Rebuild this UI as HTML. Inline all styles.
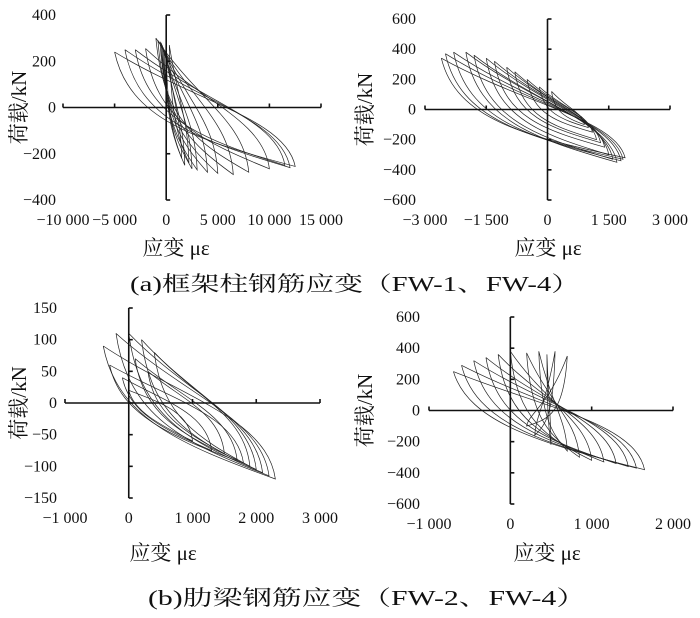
<!DOCTYPE html>
<html><head><meta charset="utf-8"><style>
body{margin:0;background:#fff;}
svg text{font-family:"Liberation Serif","Noto Serif CJK SC",serif;fill:#111;}
.tk{font-size:16px;}
.ax{stroke:#111;stroke-width:1.6;fill:none;}
.cv{stroke:#222;stroke-width:0.7;fill:none;}
.lab{font-size:21px;font-family:"Liberation Serif","Noto Serif CJK SC",serif;}
.cap{font-size:21px;font-family:"Liberation Serif","Noto Serif CJK SC",serif;}
</style></head><body>
<svg id="fig" width="700" height="613" viewBox="0 0 700 613" xmlns="http://www.w3.org/2000/svg">
<text class="cap" x="130" y="291" textLength="450" lengthAdjust="spacingAndGlyphs">(a)框架柱钢筋应变（FW-1、FW-4）</text>
<text class="cap" x="148" y="605" textLength="438" lengthAdjust="spacingAndGlyphs">(b)肋梁钢筋应变（FW-2、FW-4）</text>
</svg>
<script>
// chart 1: frame column FW-1
const c1XTicks=[-10000,-5000,0,5000,10000,15000];
const c1XLabels=["−10 000","−5 000","0","5 000","10 000","15 000"];
const c1YTicks=[400,200,0,-200,-400];
const c1YLabels=["400","200","0","−200","−400"];
const c1LeftX=[-5000,-4000,-3000,-2000,-1000,-800,-600,-500,-400,-300,-200,0,300];
const c1LeftY=[240,250,250,255,300,290,285,280,270,260,250,240,270];
const c1RightX=[12500,12000,11500,10000,8000,6500,5000,4000,3000,2500,1800,1500,2200];
const c1RightY=[-255,-260,-250,-265,-280,-290,-285,-280,-270,-265,-250,-220,-240];
// chart 2: frame column FW-4
const c2XTicks=[-3000,-1500,0,1500,3000];
const c2XLabels=["−3 000","−1 500","0","1 500","3 000"];
const c2YTicks=[600,400,200,0,-200,-400,-600];
const c2YLabels=["600","400","200","0","−200","−400","−600"];
const c2LeftX=[-2600,-2500,-2300,-2000,-1800,-1500,-1300,-1000,-800,-500,-200,100];
const c2LeftY=[340,370,380,380,360,340,320,280,250,200,150,120];
const c2RightX=[1900,1850,1800,1700,1600,1500,1400,1300,1200,1100,1000,900];
const c2RightY=[-320,-330,-340,-350,-330,-300,-250,-220,-200,-150,-120,-100];
// chart 3: rib beam FW-2
const c3XTicks=[-1000,0,1000,2000,3000];
const c3XLabels=["−1 000","0","1 000","2 000","3 000"];
const c3YTicks=[150,100,50,0,-50,-100,-150];
const c3YLabels=["150","100","50","0","−50","−100","−150"];
const c3LeftX=[-400,-200,0,200,400,-300,100,300,-100,0];
const c3LeftY=[90,110,110,100,80,60,70,50,40,20];
const c3RightX=[2300,2200,2100,2000,1900,1800,1700,1500,1300,1000];
const c3RightY=[-120,-115,-110,-105,-100,-95,-90,-80,-75,-60];
// chart 4: rib beam FW-4
const c4XTicks=[-1000,0,1000,2000];
const c4XLabels=["−1 000","0","1 000","2 000"];
const c4YTicks=[600,400,200,0,-200,-400,-600];
const c4YLabels=["600","400","200","0","−200","−400","−600"];
const c4LeftX=[-700,-600,-450,-300,-150,0,200,350,450,550,700];
const c4LeftY=[250,290,320,340,360,380,370,380,360,380,350];
const c4RightX=[1650,1550,1450,1300,1150,1000,850,700,500,300,200];
const c4RightY=[-380,-370,-360,-340,-330,-320,-300,-260,-220,-160,-100];

const NS="http://www.w3.org/2000/svg";
const svg=document.getElementById('fig');
function mk(tag,attrs,parent){const e=document.createElementNS(NS,tag);for(const k in attrs)e.setAttribute(k,attrs[k]);(parent||svg).appendChild(e);return e;}

function chart(id,cfg,xt,xl,yt,yl,lx,ly,rx,ry){
  const g=mk('g',{});
  
  
  const sx=v=>cfg.x0+(v-cfg.xmin)/(cfg.xmax-cfg.xmin)*(cfg.x1-cfg.x0);
  const sy=v=>cfg.y0+(cfg.ymax-v)/(cfg.ymax-cfg.ymin)*(cfg.y1-cfg.y0);
  for(let i=0;i<lx.length;i++){
    const ax=sx(lx[i]),ay=sy(ly[i]),bx=sx(rx[i]),by=sy(ry[i]);
    const dx=bx-ax,z=sy(0);
    const d=`M${ax},${ay} C${ax+0.08*dx},${z+(by-z)*0.2} ${bx-0.55*dx},${z+(by-z)*0.55} ${bx},${by} C${bx-0.05*dx},${z+(by-z)*0.2} ${ax+0.45*dx},${z+(ay-z)*0.1} ${ax},${ay}`;
    const p=mk('path',{d:d,class:'cv'},g);
    
    
  }
  const xa=mk('line',{x1:cfg.x0,x2:cfg.x1,y1:sy(0),y2:sy(0),class:'ax'},g);
  
  
  const ya=mk('line',{x1:sx(0),x2:sx(0),y1:cfg.y0,y2:cfg.y1,class:'ax'},g);
  
  
  xt.forEach((v,i)=>{
    if(v!==0) mk('line',{x1:sx(v),x2:sx(v),y1:sy(0),y2:sy(0)-4,class:'ax'},g);
    const t=mk('text',{x:sx(v),y:cfg.y1+25,class:'tk','text-anchor':'middle'},g);
    t.textContent=xl[i];
    
    
  });
  yt.forEach((v,i)=>{
    mk('line',{x1:sx(0),x2:sx(0)+4,y1:sy(v),y2:sy(v),class:'ax'},g);
    const t=mk('text',{x:cfg.ylx,y:sy(v)+5,class:'tk','text-anchor':'end'},g);
    t.textContent=yl[i];
    
    
  });
  const yt2=mk('text',{x:0,y:0,class:'lab','text-anchor':'middle',transform:`translate(${cfg.ytx},${(cfg.y0+cfg.y1)/2}) rotate(-90)`},g);
  yt2.textContent='荷载/kN';
  
  
  const xt2=mk('text',{x:cfg.xtx,y:cfg.xty,class:'lab','text-anchor':'middle'},g);
  xt2.textContent='应变 με';
  
  
}
chart('chart-frame-column-fw1',{x0:63,x1:321,xmin:-10000,xmax:15000,y0:15,y1:200,ymin:-400,ymax:400,ylx:56,ytx:26,xtx:176,xty:255},c1XTicks,c1XLabels,c1YTicks,c1YLabels,c1LeftX,c1LeftY,c1RightX,c1RightY);
chart('chart-frame-column-fw4',{x0:425,x1:670,xmin:-3000,xmax:3000,y0:19,y1:200,ymin:-600,ymax:600,ylx:416,ytx:372,xtx:548,xty:255},c2XTicks,c2XLabels,c2YTicks,c2YLabels,c2LeftX,c2LeftY,c2RightX,c2RightY);
chart('chart-rib-beam-fw2',{x0:65,x1:320,xmin:-1000,xmax:3000,y0:308,y1:498,ymin:-150,ymax:150,ylx:57,ytx:26,xtx:163,xty:560},c3XTicks,c3XLabels,c3YTicks,c3YLabels,c3LeftX,c3LeftY,c3RightX,c3RightY);
chart('chart-rib-beam-fw4',{x0:429,x1:673,xmin:-1000,xmax:2000,y0:317,y1:504,ymin:-600,ymax:600,ylx:420,ytx:372,xtx:547,xty:560},c4XTicks,c4XLabels,c4YTicks,c4YLabels,c4LeftX,c4LeftY,c4RightX,c4RightY);
</script>
</body></html>
